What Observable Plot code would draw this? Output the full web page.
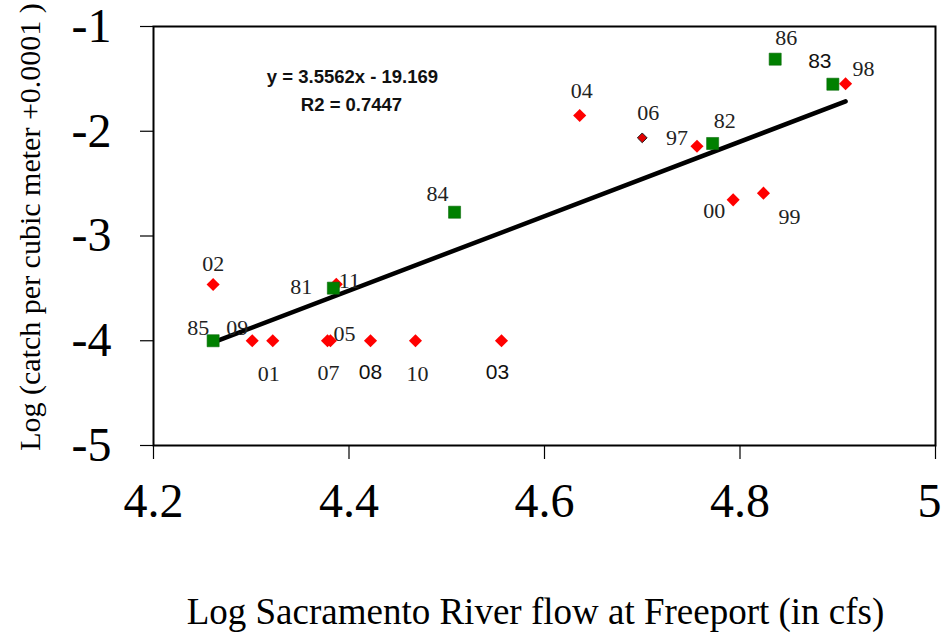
<!DOCTYPE html>
<html>
<head>
<meta charset="utf-8">
<script src="https://cdn.jsdelivr.net/npm/d3@7"></script>
<script src="https://cdn.jsdelivr.net/npm/@observablehq/plot@0.6"></script>
<style>
  html, body { margin: 0; padding: 0; background: #fff; }
  #chart svg { display: block; }
</style>
</head>
<body>
<div id="chart"></div>
<script>
// Years sampled in the 1980s (green squares)
const earlyYears = ["81", "82", "83", "84", "85", "86"];
const earlyFlow  = [4.384, 4.772, 4.895, 4.508, 4.261, 4.836];
const earlyCatch = [-3.498, -2.117, -1.551, -2.773, -4.0, -1.312];

// Years sampled from 1997 onward (red diamonds)
const lateYears = ["97", "98", "99", "00", "01", "02", "03", "04", "05", "06", "07", "08", "09", "10", "11"];
const lateFlow  = [4.756, 4.908, 4.824, 4.793, 4.322, 4.261, 4.556, 4.636, 4.381, 4.700, 4.378, 4.422, 4.301, 4.468, 4.387];
const lateCatch = [-2.143, -1.547, -2.591, -2.655, -4.0, -3.463, -4.0, -1.85, -4.0, -2.063, -4.0, -4.0, -4.0, -4.0, -3.46];

// Linear fit reported on the chart
const fitSlope = 3.5562;
const fitIntercept = -19.169;
const fitR2 = 0.7447;

const xTicks = [4.2, 4.4, 4.6, 4.8, 5];
const yTicks = [-1, -2, -3, -4, -5];

const xTitle = "Log Sacramento River flow at Freeport (in cfs)";
const yTitle = "Log (catch per cubic meter +0.0001 )";

// Per-label placement around its marker, in pixels
const labelNudge = {
  "81": [-32, -1], "82": [12, -23], "83": [-13, -23], "84": [-17, -18], "85": [-15, -13], "86": [11, -21],
  "97": [-20, -8], "98": [18, -15], "99": [26, 24], "00": [-19, 11], "01": [-4, 33], "02": [0, -21],
  "03": [-4, 32], "04": [2, -25], "05": [14, -7], "06": [6, -25], "07": [1, 32], "08": [0, 32],
  "09": [-15, -13], "10": [2, 33], "11": [13, -3]
};
const sansLabels = new Set(["83", "08", "03"]);

const serif = "'Liberation Serif', 'Times New Roman', serif";
const sans = "'Liberation Sans', Arial, sans-serif";

const early = earlyYears.map((year, i) => ({year, flow: earlyFlow[i], catch: earlyCatch[i]}));
const late = lateYears.map((year, i) => ({year, flow: lateFlow[i], catch: lateCatch[i]}));
const all = [...late, ...early];

// Fitted line drawn across the observed flow range
const flowExtent = d3.extent(all, d => d.flow);
const fitLine = flowExtent.map(x => ({flow: x, catch: fitSlope * x + fitIntercept}));

const lateMain = late.filter(d => d.year !== "06");
const lateOutlined = late.filter(d => d.year === "06");

const labelMarks = all.map(d => Plot.text([d], {
  x: "flow",
  y: "catch",
  text: "year",
  dx: labelNudge[d.year][0],
  dy: labelNudge[d.year][1],
  fontFamily: sansLabels.has(d.year) ? sans : serif,
  fontSize: sansLabels.has(d.year) ? 21 : 22,
  fill: sansLabels.has(d.year) ? "#111" : "#222"
}));

const tickLabelStyle = {fontSize: 48, fontFamily: serif, tickFormat: d => String(d), label: null};
const equationStyle = {
  frameAnchor: "top-left", fontFamily: sans, fontWeight: "bold", fontSize: 18.5,
  textAnchor: "middle", lineAnchor: "middle", fill: "#111"
};

const chart = Plot.plot({
  width: 946,
  height: 632,
  marginLeft: 153,
  marginRight: 11,
  marginTop: 26,
  marginBottom: 187,
  style: {color: "black", background: "white"},
  x: {domain: [4.2, 5]},
  y: {domain: [-5, -1]},
  marks: [
    // x tick lines, then the labels (the last one tucked in from the edge)
    Plot.axisX(xTicks, {tickSize: 14, tickFormat: () => "", label: null, strokeWidth: 1.2}),
    Plot.axisX(xTicks.slice(0, -1), {tickSize: 0, tickPadding: 37, ...tickLabelStyle}),
    Plot.axisX(xTicks.slice(-1), {tickSize: 0, tickPadding: 37, dx: -6, ...tickLabelStyle}),
    Plot.axisY(yTicks, {tickSize: 13, tickPadding: 29, strokeWidth: 1.2, ...tickLabelStyle}),
    Plot.frame({stroke: "black", strokeWidth: 2}),
    Plot.line(fitLine, {x: "flow", y: "catch", stroke: "black", strokeWidth: 4.5}),
    Plot.dot(lateMain, {x: "flow", y: "catch", symbol: "diamond2", r: 5.9, fill: "#ff0000", stroke: "none"}),
    Plot.dot(lateOutlined, {x: "flow", y: "catch", symbol: "diamond2", r: 4.4, fill: "#e00000", stroke: "#222", strokeWidth: 1}),
    Plot.dot(early, {x: "flow", y: "catch", symbol: "square", r: 6.8, fill: "#008000", stroke: "#0a6a0a", strokeWidth: 0.6}),
    ...labelMarks,
    Plot.text([`y = ${fitSlope}x - ${Math.abs(fitIntercept)}`], {...equationStyle, dx: 199, dy: 51}),
    Plot.text([`R2 = ${fitR2}`], {...equationStyle, dx: 198, dy: 79}),
    Plot.text([xTitle], {
      frameAnchor: "bottom", dx: -9, dy: 167,
      fontFamily: serif, fontSize: 37, textAnchor: "middle", lineAnchor: "middle"
    }),
    Plot.text([yTitle], {
      frameAnchor: "left", dx: -123, dy: -9, rotate: -90,
      fontFamily: serif, fontSize: 30, textAnchor: "middle", lineAnchor: "middle"
    })
  ]
});

document.getElementById("chart").appendChild(chart);
</script>
</body>
</html>
